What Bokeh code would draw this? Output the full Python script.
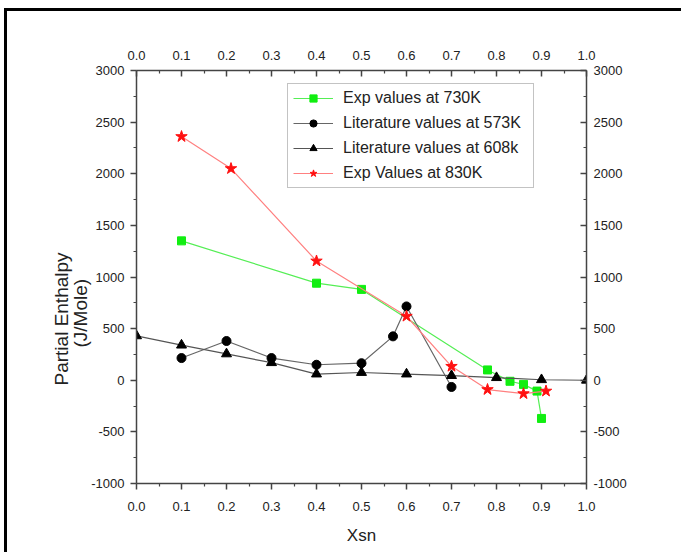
from bokeh.plotting import figure
from bokeh.models import (LinearAxis, Range1d, FixedTicker, Legend, LegendItem,
                          NumeralTickFormatter, Title)
from bokeh.embed import file_html
from bokeh.resources import INLINE

# ---------------- data ----------------
exp730_x = [0.1, 0.4, 0.5, 0.78, 0.83, 0.86, 0.89, 0.90]
exp730_y = [1350, 940, 880, 100, -10, -40, -105, -370]

lit573_x = [0.1, 0.2, 0.3, 0.4, 0.5, 0.57, 0.6, 0.7]
lit573_y = [215, 380, 215, 150, 165, 425, 715, -65]

lit608_x = [0.0, 0.1, 0.2, 0.3, 0.4, 0.5, 0.6, 0.7, 0.8, 0.9, 1.0]
lit608_y = [430, 340, 255, 170, 60, 75, 60, 45, 25, 5, 0]

exp830_x = [0.1, 0.21, 0.4, 0.6, 0.7, 0.78, 0.86, 0.91]
exp830_y = [2360, 2050, 1155, 620, 135, -90, -130, -105]

series_labels = ["Exp values at 730K", "Literature values at 573K",
                 "Literature values at 608k", "Exp Values at 830K"]

x_ticks = [0.0, 0.1, 0.2, 0.3, 0.4, 0.5, 0.6, 0.7, 0.8, 0.9, 1.0]
x_minor = [0.05, 0.15, 0.25, 0.35, 0.45, 0.55, 0.65, 0.75, 0.85, 0.95]
y_ticks = [-1000, -500, 0, 500, 1000, 1500, 2000, 2500, 3000]
y_minor = [-750, -250, 250, 750, 1250, 1750, 2250, 2750]

x_title = "Xsn"
y_title_1 = "Partial Enthalpy"
y_title_2 = "(J/Mole)"

FONT = "Liberation Sans"
AXIS_COLOR = "#444444"
TEXT_COLOR = "#222222"

p = figure(width=677, height=544, x_range=Range1d(0, 1), y_range=Range1d(-1000, 3000),
           output_backend="svg", toolbar_location=None,
           min_border_left=129, min_border_right=98, min_border_top=59, min_border_bottom=72,
           background_fill_color="white", border_fill_color="white")
p.margin = (8, 0, 0, 4)
p.styles = {"border-top": "3px solid black", "border-left": "3px solid black"}
p.grid.visible = False
p.outline_line_color = None

xt = FixedTicker(ticks=x_ticks, minor_ticks=x_minor)
yt = FixedTicker(ticks=y_ticks, minor_ticks=y_minor)


def style_axis(ax, outward):
    ax.axis_line_color = AXIS_COLOR
    ax.axis_line_width = 1.5
    ax.major_tick_line_color = AXIS_COLOR
    ax.minor_tick_line_color = AXIS_COLOR
    ax.major_tick_line_width = 1.5
    ax.minor_tick_line_width = 1.2
    if outward:
        ax.major_tick_out = 6
        ax.major_tick_in = 0
        ax.minor_tick_out = 3
        ax.minor_tick_in = 0
    else:
        ax.major_tick_out = 0
        ax.major_tick_in = 6
        ax.minor_tick_out = 0
        ax.minor_tick_in = 3
    ax.major_label_text_font = FONT
    ax.major_label_text_font_size = "13px"
    ax.major_label_text_color = TEXT_COLOR


# bottom
bx = p.xaxis[0]
bx.ticker = xt
bx.formatter = NumeralTickFormatter(format="0.0")
style_axis(bx, True)
bx.major_label_standoff = 12
bx.axis_label = x_title
bx.axis_label_text_font = FONT
bx.axis_label_text_font_size = "17px"
bx.axis_label_text_font_style = "normal"
bx.axis_label_text_color = TEXT_COLOR
bx.axis_label_standoff = 12

# left (ticks and numbers)
ly = p.yaxis[0]
ly.ticker = yt
ly.formatter = NumeralTickFormatter(format="0")
style_axis(ly, True)
ly.major_label_standoff = 6

# left title: two lines, placed lower than centre like the original
for txt, off, so in [(y_title_2, 136, -4), (y_title_1, 98, -5)]:
    p.add_layout(Title(text=txt, align="left", offset=off, standoff=so,
                       text_font=FONT, text_font_size="19px", text_font_style="normal",
                       text_color=TEXT_COLOR, text_line_height=0.9), "left")

# top
tx = LinearAxis(ticker=xt, formatter=NumeralTickFormatter(format="0.0"))
style_axis(tx, False)
tx.major_label_standoff = 11
p.add_layout(tx, "above")

# right
ry = LinearAxis(ticker=yt, formatter=NumeralTickFormatter(format="0"))
style_axis(ry, False)
ry.major_label_standoff = 7
p.add_layout(ry, "right")

# ---------------- series ----------------
g_line = p.line(exp730_x, exp730_y, line_color="#55ee55", line_width=1.2)
g_pts = p.scatter(exp730_x, exp730_y, marker="square", size=8,
                  fill_color="#11ee11", line_color="#11ee11")

c_line = p.line(lit573_x, lit573_y, line_color="#666666", line_width=1.2)
c_pts = p.scatter(lit573_x, lit573_y, marker="circle", size=9,
                  fill_color="black", line_color="black")

t_line = p.line(lit608_x, lit608_y, line_color="#555555", line_width=1.2)
t_pts = p.scatter(lit608_x, lit608_y, marker="triangle", size=10,
                  fill_color="black", line_color="black")

r_line = p.line(exp830_x, exp830_y, line_color="#ff8080", line_width=1.2)
r_pts = p.scatter(exp830_x, exp830_y, marker="star", size=12,
                  fill_color="#ff1010", line_color="#ff1010")

legend = Legend(items=[
    LegendItem(label=series_labels[0], renderers=[g_line, g_pts]),
    LegendItem(label=series_labels[1], renderers=[c_line, c_pts]),
    LegendItem(label=series_labels[2], renderers=[t_line, t_pts]),
    LegendItem(label=series_labels[3], renderers=[r_line, r_pts]),
], location=(151, 295))
legend.margin = 0
legend.padding = 5
legend.spacing = 7
legend.label_height = 18
legend.glyph_height = 18
legend.glyph_width = 40
legend.label_standoff = 10
legend.label_width = 185
legend.label_text_font = FONT
legend.label_text_font_size = "16px"
legend.label_text_color = TEXT_COLOR
legend.border_line_color = "#888888"
legend.border_line_width = 1.2
legend.background_fill_color = "white"
p.add_layout(legend)

open("out.html", "w").write(file_html(p, INLINE))
